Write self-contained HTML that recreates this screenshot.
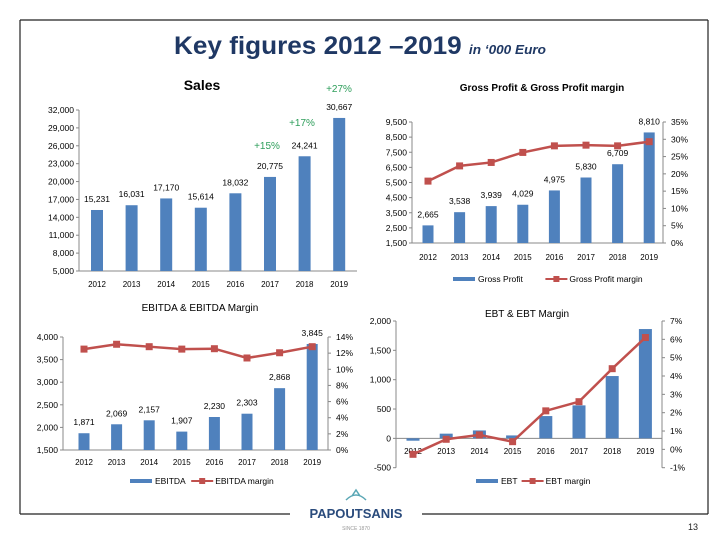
<!DOCTYPE html>
<html><head><meta charset="utf-8"><style>
body{margin:0;width:720px;height:540px;background:#fff;overflow:hidden}
svg{display:block;font-family:"Liberation Sans",sans-serif}
</style></head><body>
<svg id="s" width="720" height="540" viewBox="0 0 720 540">
<g stroke="#222" stroke-width="1.2" fill="none">
<line x1="20" y1="20" x2="708" y2="20"/><line x1="20" y1="20" x2="20" y2="514"/><line x1="708" y1="20" x2="708" y2="514"/>
<line x1="20" y1="514" x2="290" y2="514"/><line x1="422" y1="514" x2="708" y2="514"/>
</g>
<text x="360" y="54" text-anchor="middle" fill="#1F3864" font-weight="bold" font-size="25" textLength="372" lengthAdjust="spacingAndGlyphs">Key figures 2012 –2019 <tspan font-size="13" font-style="italic">in ‘000 Euro</tspan></text>
<g>
<path d="M346 500 q10 -10 20 0 M352 496 l4 -6 l4 6" stroke="#5aa7b5" stroke-width="1.5" fill="none"/>
<text x="356" y="518" text-anchor="middle" font-weight="bold" font-size="13" fill="#2a4b7c">PAPOUTSANIS</text>
<text x="356" y="530" text-anchor="middle" font-size="5" fill="#999">SINCE 1870</text>
</g>
<text x="698" y="530" text-anchor="end" font-size="9" fill="#222">13</text>
<text x="202" y="90" text-anchor="middle" font-weight="bold" font-size="14">Sales</text>
<text x="542" y="91" text-anchor="middle" font-weight="bold" font-size="10">Gross Profit &amp; Gross Profit margin</text>
<text x="200" y="311" text-anchor="middle" font-size="10">EBITDA &amp; EBITDA Margin</text>
<text x="527" y="317" text-anchor="middle" font-size="10">EBT &amp; EBT Margin</text>
<text x="339" y="92" text-anchor="middle" font-size="10" fill="#2E9E5B">+27%</text>
<text x="302" y="126" text-anchor="middle" font-size="10" fill="#2E9E5B">+17%</text>
<text x="267" y="149" text-anchor="middle" font-size="10" fill="#2E9E5B">+15%</text>
</svg>
<script>
const years=["2012","2013","2014","2015","2016","2017","2018","2019"];
const salesValues=[15231,16031,17170,15614,18032,20775,24241,30667];
const salesTicks=[5000,8000,11000,14000,17000,20000,23000,26000,29000,32000];
const gpValues=[2665,3538,3939,4029,4975,5830,6709,8810];
const gpMargin=[17.9,22.3,23.3,26.2,28.1,28.3,28.1,29.3];
const gpTicks=[1500,2500,3500,4500,5500,6500,7500,8500,9500];
const gpMarginTicks=[0,5,10,15,20,25,30,35];
const ebitdaValues=[1871,2069,2157,1907,2230,2303,2868,3845];
const ebitdaMargin=[12.5,13.1,12.8,12.5,12.55,11.4,12.05,12.8];
const ebitdaTicks=[1500,2000,2500,3000,3500,4000];
const ebitdaMarginTicks=[0,2,4,6,8,10,12,14];
const ebtValues=[-40,80,135,50,380,562,1062,1863];
const ebtMargin=[-0.27,0.55,0.79,0.42,2.1,2.6,4.4,6.1];
const ebtTicks=[-500,0,500,1000,1500,2000];
const ebtMarginTicks=[-1,0,1,2,3,4,5,6,7];

const S=document.getElementById('s');const NS='http://www.w3.org/2000/svg';
function mk(t,a,p){const e=document.createElementNS(NS,t);for(const k in a)e.setAttribute(k,a[k]);(p||S).appendChild(e);return e;}
function fmt(v){return v.toLocaleString('en-US');}
function chart(c){
 const g=mk('g',{});
 
 
 const y=v=>c.y1-(v-c.min)/(c.max-c.min)*(c.y1-c.y0);
 const x=i=>c.x0+i*c.step;
 const axisV=c.base!==undefined?c.base:c.min;
 mk('line',{x1:c.ax,y1:c.y0,x2:c.ax,y2:c.y1,stroke:'#888'},g);
 c.ticks.forEach(t=>{mk('line',{x1:c.ax-3,y1:y(t),x2:c.ax,y2:y(t),stroke:'#888'},g);
  const tx=mk('text',{x:c.ax-5,y:y(t)+3,'text-anchor':'end','font-size':8.5},g);tx.textContent=fmt(t);
  
  });
 mk('line',{x1:c.ax,y1:y(axisV),x2:c.xr,y2:y(axisV),stroke:'#888'},g);
 c.vals.forEach((v,i)=>{const top=Math.min(y(v),y(axisV)),h=Math.abs(y(v)-y(axisV));
  const r=mk('rect',{x:x(i)-c.bw/2,y:top,width:c.bw,height:h,fill:'#4F81BD'},g);
  
  
  if(c.labels){const t=mk('text',{x:x(i)+(c.lx||0),y:y(v)-(c.ldy||8),'text-anchor':'middle','font-size':8.5},g);t.textContent=fmt(v);
   
   }
  const yl=mk('text',{x:x(i),y:c.yl,'text-anchor':'middle','font-size':8},g);yl.textContent=years[i];
  
  });
 if(c.m){const ym=v=>c.y1m-(v-c.mmin)/(c.mmax-c.mmin)*(c.y1m-c.y0);
  mk('line',{x1:c.rx,y1:c.y0,x2:c.rx,y2:c.y1m,stroke:'#888'},g);
  c.mticks.forEach(t=>{mk('line',{x1:c.rx,y1:ym(t),x2:c.rx+3,y2:ym(t),stroke:'#888'},g);
   const tx=mk('text',{x:c.rx+8,y:ym(t)+3,'font-size':8.5},g);tx.textContent=t+'%';
   
   });
  const pl=mk('polyline',{points:c.m.map((v,i)=>x(i)+','+ym(v)).join(' '),fill:'none',stroke:'#C0504D','stroke-width':2.5},g);
  
  
  c.m.forEach((v,i)=>{const p=mk('rect',{x:x(i)-3.5,y:ym(v)-3.5,width:7,height:7,fill:'#C0504D'},g);
   
   });
  const L=mk('g',{},g);
  
  
  mk('rect',{x:c.lgx,y:c.lgy-2,width:22,height:4,fill:'#4F81BD'},L);
  let t=mk('text',{x:c.lgx+25,y:c.lgy+3,'font-size':8.5},L);t.textContent=c.l1;
  const x2=c.lgx+30+c.l1.length*5.2;
  mk('line',{x1:x2,y1:c.lgy,x2:x2+22,y2:c.lgy,stroke:'#C0504D','stroke-width':2},L);
  mk('rect',{x:x2+8,y:c.lgy-3,width:6,height:6,fill:'#C0504D'},L);
  t=mk('text',{x:x2+24,y:c.lgy+3,'font-size':8.5},L);t.textContent=c.l2;}
}
chart({name:'sales-chart',vals:salesValues,ticks:salesTicks,min:5000,max:32000,y0:110,y1:271,ax:79,xr:357,x0:97,step:34.6,bw:12,yl:287,labels:true});
chart({name:'gross-profit-chart',vals:gpValues,ticks:gpTicks,min:1500,max:9500,y0:122,y1:243,ax:412,xr:663,x0:428,step:31.6,bw:11,yl:260,labels:true,
 m:gpMargin,mticks:gpMarginTicks,mmin:0,mmax:35,y1m:243,rx:663,lgx:453,lgy:279,l1:'Gross Profit',l2:'Gross Profit margin'});
chart({name:'ebitda-chart',vals:ebitdaValues,ticks:ebitdaTicks,min:1500,max:4000,y0:337,y1:450,ax:63,xr:328,x0:84,step:32.6,bw:11,yl:465,labels:true,
 m:ebitdaMargin,mticks:ebitdaMarginTicks,mmin:0,mmax:14,y1m:450,rx:328,lgx:130,lgy:481,l1:'EBITDA',l2:'EBITDA margin'});
chart({name:'ebt-chart',vals:ebtValues,ticks:ebtTicks,min:-500,max:2000,base:0,y0:321,y1:467.7,ax:396,xr:662,x0:413,step:33.2,bw:13,yl:454,labels:false,
 m:ebtMargin,mticks:ebtMarginTicks,mmin:-1,mmax:7,y1m:467.7,rx:662,lgx:476,lgy:481,l1:'EBT',l2:'EBT margin'});
</script>
</body></html>
